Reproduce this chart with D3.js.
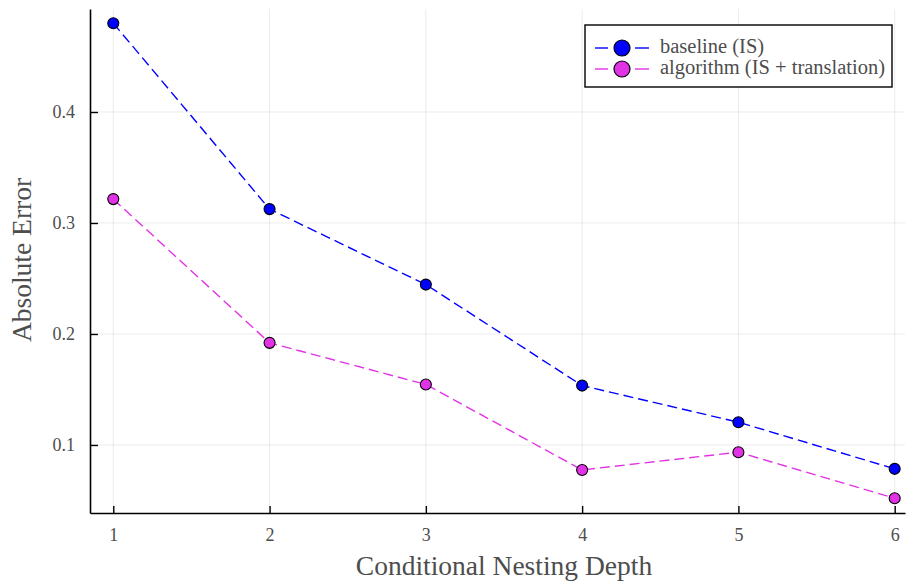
<!DOCTYPE html>
<html>
<head>
<meta charset="utf-8">
<script src="https://cdn.jsdelivr.net/npm/d3@7"></script>
<style>
  body { margin: 0; background: #fff; }
  text { font-family: "Liberation Serif", "Times New Roman", serif; fill: #4d4d4d; }
</style>
</head>
<body>
<svg id="chart" width="911" height="583"></svg>
<script>
// data
let depths = [1, 2, 3, 4, 5, 6];
let baseline = [0.480, 0.3125, 0.2445, 0.1535, 0.1205, 0.0785];
let algorithm = [0.3215, 0.192, 0.1545, 0.0775, 0.0935, 0.052];
let yTicks = [0.1, 0.2, 0.3, 0.4];
let seriesNames = ["baseline (IS)", "algorithm (IS + translation)"];
let seriesColors = ["#0000ff", "#e232e6"];

let serif = "'Liberation Serif', 'Times New Roman', serif";
let svg = d3.select("#chart");
let margin = {top: 9, right: 6, bottom: 70, left: 90};
let width = 911 - margin.left - margin.right;
let height = 583 - margin.top - margin.bottom;

let g = svg.append("g").attr("transform", "translate(" + margin.left + "," + margin.top + ")");

let xScale = d3.scaleLinear().domain([0.851, 6.066]).range([0, width]);
let yScale = d3.scaleLinear().domain([0.0387, 0.4928]).range([height, 0]);

// grid
g.append("g").selectAll("line").data(depths).enter().append("line")
    .attr("x1", d => xScale(d)).attr("x2", d => xScale(d))
    .attr("y1", 0).attr("y2", height)
    .style("stroke", "#000").style("stroke-opacity", 0.1).style("stroke-width", 0.8);
g.append("g").selectAll("line").data(yTicks).enter().append("line")
    .attr("x1", 0).attr("x2", width)
    .attr("y1", d => yScale(d)).attr("y2", d => yScale(d))
    .style("stroke", "#000").style("stroke-opacity", 0.1).style("stroke-width", 0.8);

// axes
let xAxis = d3.axisBottom(xScale).tickValues(depths).tickFormat(d3.format("d"))
    .tickSizeInner(-7).tickSizeOuter(0).tickPadding(15);
let yAxis = d3.axisLeft(yScale).tickValues(yTicks).tickFormat(d3.format(".1f"))
    .tickSizeInner(-8).tickSizeOuter(0).tickPadding(15);

let gx = g.append("g").attr("transform", "translate(0," + height + ")").call(xAxis);
let gy = g.append("g").call(yAxis);
[gx, gy].forEach(a => {
    a.attr("font-family", serif);
    a.select(".domain").style("stroke", "#000").style("stroke-width", 1.6);
    a.selectAll(".tick line").style("stroke", "#000").style("stroke-width", 1.4);
    a.selectAll("text").style("font-size", "18px").style("fill", "#4d4d4d")
        .style("font-family", serif);
});

// lines + markers
let line = d3.line().x((d, i) => xScale(depths[i])).y(d => yScale(d));
[baseline, algorithm].forEach((vals, k) => {
    g.append("path").datum(vals)
        .attr("d", line)
        .style("fill", "none")
        .style("stroke", seriesColors[k])
        .style("stroke-width", 1.4)
        .style("stroke-dasharray", "10,5");
    g.append("g").selectAll("circle").data(vals).enter().append("circle")
        .attr("cx", (d, i) => xScale(depths[i]))
        .attr("cy", d => yScale(d))
        .attr("r", 5.5)
        .style("fill", seriesColors[k])
        .style("stroke", "#000")
        .style("stroke-width", 1.1);
});

// axis titles
svg.append("text")
    .attr("x", 504).attr("y", 575)
    .attr("text-anchor", "middle")
    .style("font-family", serif)
    .style("font-size", "27.5px")
    .text("Conditional Nesting Depth");
svg.append("text")
    .attr("transform", "translate(31,260) rotate(-90)")
    .attr("text-anchor", "middle")
    .style("font-family", serif)
    .style("font-size", "27.5px")
    .text("Absolute Error");

// legend
let legend = svg.append("g").attr("transform", "translate(585,25)");
legend.append("rect")
    .attr("width", 307).attr("height", 62)
    .style("fill", "#fff").style("stroke", "#000").style("stroke-width", 1.4);
seriesNames.forEach((name, k) => {
    let row = legend.append("g").attr("transform", "translate(0," + (23 + k * 21) + ")");
    row.append("line").attr("x1", 10).attr("x2", 64)
        .style("stroke", seriesColors[k]).style("stroke-width", 1.4)
        .style("stroke-dasharray", "13,41");
    row.append("line").attr("x1", 50).attr("x2", 64)
        .style("stroke", seriesColors[k]).style("stroke-width", 1.4);
    row.append("circle").attr("cx", 37).attr("r", 8)
        .style("fill", seriesColors[k]).style("stroke", "#000").style("stroke-width", 1.2);
    row.append("text").attr("x", 75).attr("y", 5)
        .style("font-family", serif)
        .style("font-size", "20.5px")
        .text(name);
});
</script>
</body>
</html>
